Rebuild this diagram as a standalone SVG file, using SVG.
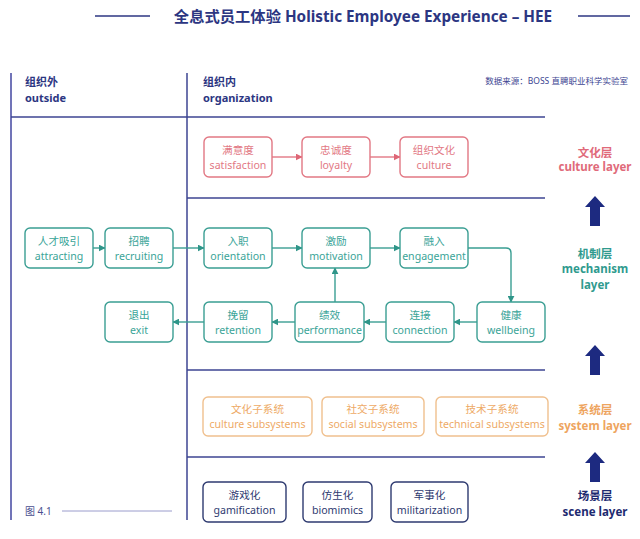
<svg xmlns="http://www.w3.org/2000/svg" width="640" height="539" viewBox="0 0 640 539">
<defs>
<style>
text{font-family:"Noto Sans","Noto Sans CJK SC",sans-serif;}
.box{fill:#fff;stroke-width:1.4;}
.t{stroke:#3a9e93;}
.p{stroke:#e27884;}
.o{stroke:#f0c08e;}
.n{stroke:#2e3a70;}
.bt{font-size:10.6px;text-anchor:middle;}
.tt{fill:#3aa498;}
.pt{fill:#e27884;}
.ot{fill:#eeaa66;}
.nt{fill:#2e3a70;}
.frame{stroke:#3d4592;stroke-width:1.5;fill:none;}
.conn{fill:none;stroke-width:1.4;}
.lay{font-size:11.5px;font-weight:bold;text-anchor:middle;}
</style>
<marker id="at" viewBox="0 0 10 10" refX="9" refY="5" markerWidth="7" markerHeight="7" orient="auto" markerUnits="userSpaceOnUse"><path d="M0,0 L10,5 L0,10 z" fill="#2f9589"/></marker>
<marker id="ap" viewBox="0 0 10 10" refX="9" refY="5" markerWidth="7" markerHeight="7" orient="auto" markerUnits="userSpaceOnUse"><path d="M0,0 L10,5 L0,10 z" fill="#de6676"/></marker>
<path id="bigup" d="M0,0 L10,11 L5,11 L5,30 L-5,30 L-5,11 L-10,11 z" fill="#1d2a80"/>
</defs>
<rect width="640" height="539" fill="#fff"/>

<g id="title">
<line x1="95" y1="16" x2="150" y2="16" stroke="#2c3682" stroke-width="1.6"/>
<line x1="578" y1="16" x2="630" y2="16" stroke="#2c3682" stroke-width="1.6"/>
<text x="363" y="22" font-size="15.3" font-weight="bold" fill="#2c3682" text-anchor="middle">全息式员工体验 Holistic Employee Experience – HEE</text>
</g>

<g id="frame">
<line x1="11" y1="73" x2="11" y2="520" stroke="#7174b8" stroke-width="2"/>
<line class="frame" x1="187" y1="73" x2="187" y2="520"/>
<line class="frame" x1="11" y1="117" x2="545" y2="117"/>
<line class="frame" x1="187" y1="198" x2="545" y2="198"/>
<line class="frame" x1="187" y1="370" x2="545" y2="370"/>
<line class="frame" x1="187" y1="457" x2="545" y2="457"/>
<text x="25" y="86" font-size="11" font-weight="bold" fill="#2c3682">组织外</text>
<text x="25" y="102" font-size="11" font-weight="bold" fill="#2c3682">outside</text>
<text x="203" y="86" font-size="11" font-weight="bold" fill="#2c3682">组织内</text>
<text x="203" y="102" font-size="11" font-weight="bold" fill="#2c3682">organization</text>
<text x="628" y="84" font-size="8.5" fill="#3d4592" text-anchor="end">数据来源：BOSS 直聘职业科学实验室</text>
<text x="25" y="515" font-size="10" fill="#4a4f90">图 4.1</text>
<line x1="62" y1="511" x2="172" y2="511" stroke="#9a9ccc" stroke-width="1"/>
</g>

<g id="connectors">
<line class="conn" stroke="#e27884" x1="272" y1="157" x2="302" y2="157" marker-end="url(#ap)"/>
<line class="conn" stroke="#e27884" x1="370" y1="157" x2="400" y2="157" marker-end="url(#ap)"/>
<line class="conn" stroke="#3a9e93" x1="93" y1="248" x2="105" y2="248" marker-end="url(#at)"/>
<line class="conn" stroke="#3a9e93" x1="173" y1="248" x2="204" y2="248" marker-end="url(#at)"/>
<line class="conn" stroke="#3a9e93" x1="272" y1="248" x2="302" y2="248" marker-end="url(#at)"/>
<line class="conn" stroke="#3a9e93" x1="370" y1="248" x2="400" y2="248" marker-end="url(#at)"/>
<path class="conn" stroke="#3a9e93" d="M468,248 H506 Q511,248 511,253 V302" marker-end="url(#at)"/>
<line class="conn" stroke="#3a9e93" x1="477" y1="322" x2="454" y2="322" marker-end="url(#at)"/>
<line class="conn" stroke="#3a9e93" x1="386" y1="322" x2="364" y2="322" marker-end="url(#at)"/>
<line class="conn" stroke="#3a9e93" x1="295" y1="322" x2="272" y2="322" marker-end="url(#at)"/>
<line class="conn" stroke="#3a9e93" x1="204" y1="322" x2="173" y2="322" marker-end="url(#at)"/>
<line class="conn" stroke="#3a9e93" x1="335" y1="302" x2="335" y2="268" marker-end="url(#at)"/>
</g>

<g id="n-satisfaction"><rect class="box p" x="204" y="137" width="68" height="40" rx="5"/><text class="bt pt" x="238" y="154">满意度</text><text class="bt pt" x="238" y="169">satisfaction</text></g>
<g id="n-loyalty"><rect class="box p" x="302" y="137" width="68" height="40" rx="5"/><text class="bt pt" x="336" y="154">忠诚度</text><text class="bt pt" x="336" y="169">loyalty</text></g>
<g id="n-culture"><rect class="box p" x="400" y="137" width="68" height="40" rx="5"/><text class="bt pt" x="434" y="154">组织文化</text><text class="bt pt" x="434" y="169">culture</text></g>

<g id="n-attracting"><rect class="box t" x="25" y="228" width="68" height="40" rx="5"/><text class="bt tt" x="59" y="245">人才吸引</text><text class="bt tt" x="59" y="260">attracting</text></g>
<g id="n-recruiting"><rect class="box t" x="105" y="228" width="68" height="40" rx="5"/><text class="bt tt" x="139" y="245">招聘</text><text class="bt tt" x="139" y="260">recruiting</text></g>
<g id="n-orientation"><rect class="box t" x="204" y="228" width="68" height="40" rx="5"/><text class="bt tt" x="238" y="245">入职</text><text class="bt tt" x="238" y="260">orientation</text></g>
<g id="n-motivation"><rect class="box t" x="302" y="228" width="68" height="40" rx="5"/><text class="bt tt" x="336" y="245">激励</text><text class="bt tt" x="336" y="260">motivation</text></g>
<g id="n-engagement"><rect class="box t" x="400" y="228" width="68" height="40" rx="5"/><text class="bt tt" x="434" y="245">融入</text><text class="bt tt" x="434" y="260">engagement</text></g>

<g id="n-exit"><rect class="box t" x="105" y="302" width="68" height="40" rx="5"/><text class="bt tt" x="139" y="319">退出</text><text class="bt tt" x="139" y="334">exit</text></g>
<g id="n-retention"><rect class="box t" x="204" y="302" width="68" height="40" rx="5"/><text class="bt tt" x="238" y="319">挽留</text><text class="bt tt" x="238" y="334">retention</text></g>
<g id="n-performance"><rect class="box t" x="295" y="302" width="69" height="40" rx="5"/><text class="bt tt" x="329.5" y="319">绩效</text><text class="bt tt" x="329.5" y="334">performance</text></g>
<g id="n-connection"><rect class="box t" x="386" y="302" width="68" height="40" rx="5"/><text class="bt tt" x="420" y="319">连接</text><text class="bt tt" x="420" y="334">connection</text></g>
<g id="n-wellbeing"><rect class="box t" x="477" y="302" width="68" height="40" rx="5"/><text class="bt tt" x="511" y="319">健康</text><text class="bt tt" x="511" y="334">wellbeing</text></g>

<g id="n-culture-sub"><rect class="box o" x="203" y="397" width="109" height="39" rx="5"/><text class="bt ot" x="257.5" y="413">文化子系统</text><text class="bt ot" x="257.5" y="428">culture subsystems</text></g>
<g id="n-social-sub"><rect class="box o" x="322" y="397" width="102" height="39" rx="5"/><text class="bt ot" x="373" y="413">社交子系统</text><text class="bt ot" x="373" y="428">social subsystems</text></g>
<g id="n-tech-sub"><rect class="box o" x="436" y="397" width="112" height="39" rx="5"/><text class="bt ot" x="492" y="413">技术子系统</text><text class="bt ot" x="492" y="428">technical subsystems</text></g>

<g id="n-gamification"><rect class="box n" x="203" y="482" width="83" height="40" rx="5"/><text class="bt nt" x="244.5" y="499">游戏化</text><text class="bt nt" x="244.5" y="514">gamification</text></g>
<g id="n-biomimics"><rect class="box n" x="303" y="482" width="69" height="40" rx="5"/><text class="bt nt" x="337.5" y="499">仿生化</text><text class="bt nt" x="337.5" y="514">biomimics</text></g>
<g id="n-militarization"><rect class="box n" x="391" y="482" width="77" height="40" rx="5"/><text class="bt nt" x="429.5" y="499">军事化</text><text class="bt nt" x="429.5" y="514">militarization</text></g>

<g id="layers">
<text class="lay" x="595" y="157" fill="#e06a7a">文化层</text>
<text class="lay" x="595" y="171" fill="#e06a7a">culture layer</text>
<use href="#bigup" x="595" y="196"/>
<text class="lay" x="595" y="258" fill="#2f9a8e">机制层</text>
<text class="lay" x="595" y="273" fill="#2f9a8e">mechanism</text>
<text class="lay" x="595" y="289" fill="#2f9a8e">layer</text>
<use href="#bigup" x="595" y="345"/>
<text class="lay" x="595" y="414" fill="#eea45e">系统层</text>
<text class="lay" x="595" y="430" fill="#eea45e">system layer</text>
<use href="#bigup" x="595" y="452"/>
<text class="lay" x="595" y="500" fill="#1d2a70">场景层</text>
<text class="lay" x="595" y="516" fill="#1d2a70">scene layer</text>
</g>
</svg>
